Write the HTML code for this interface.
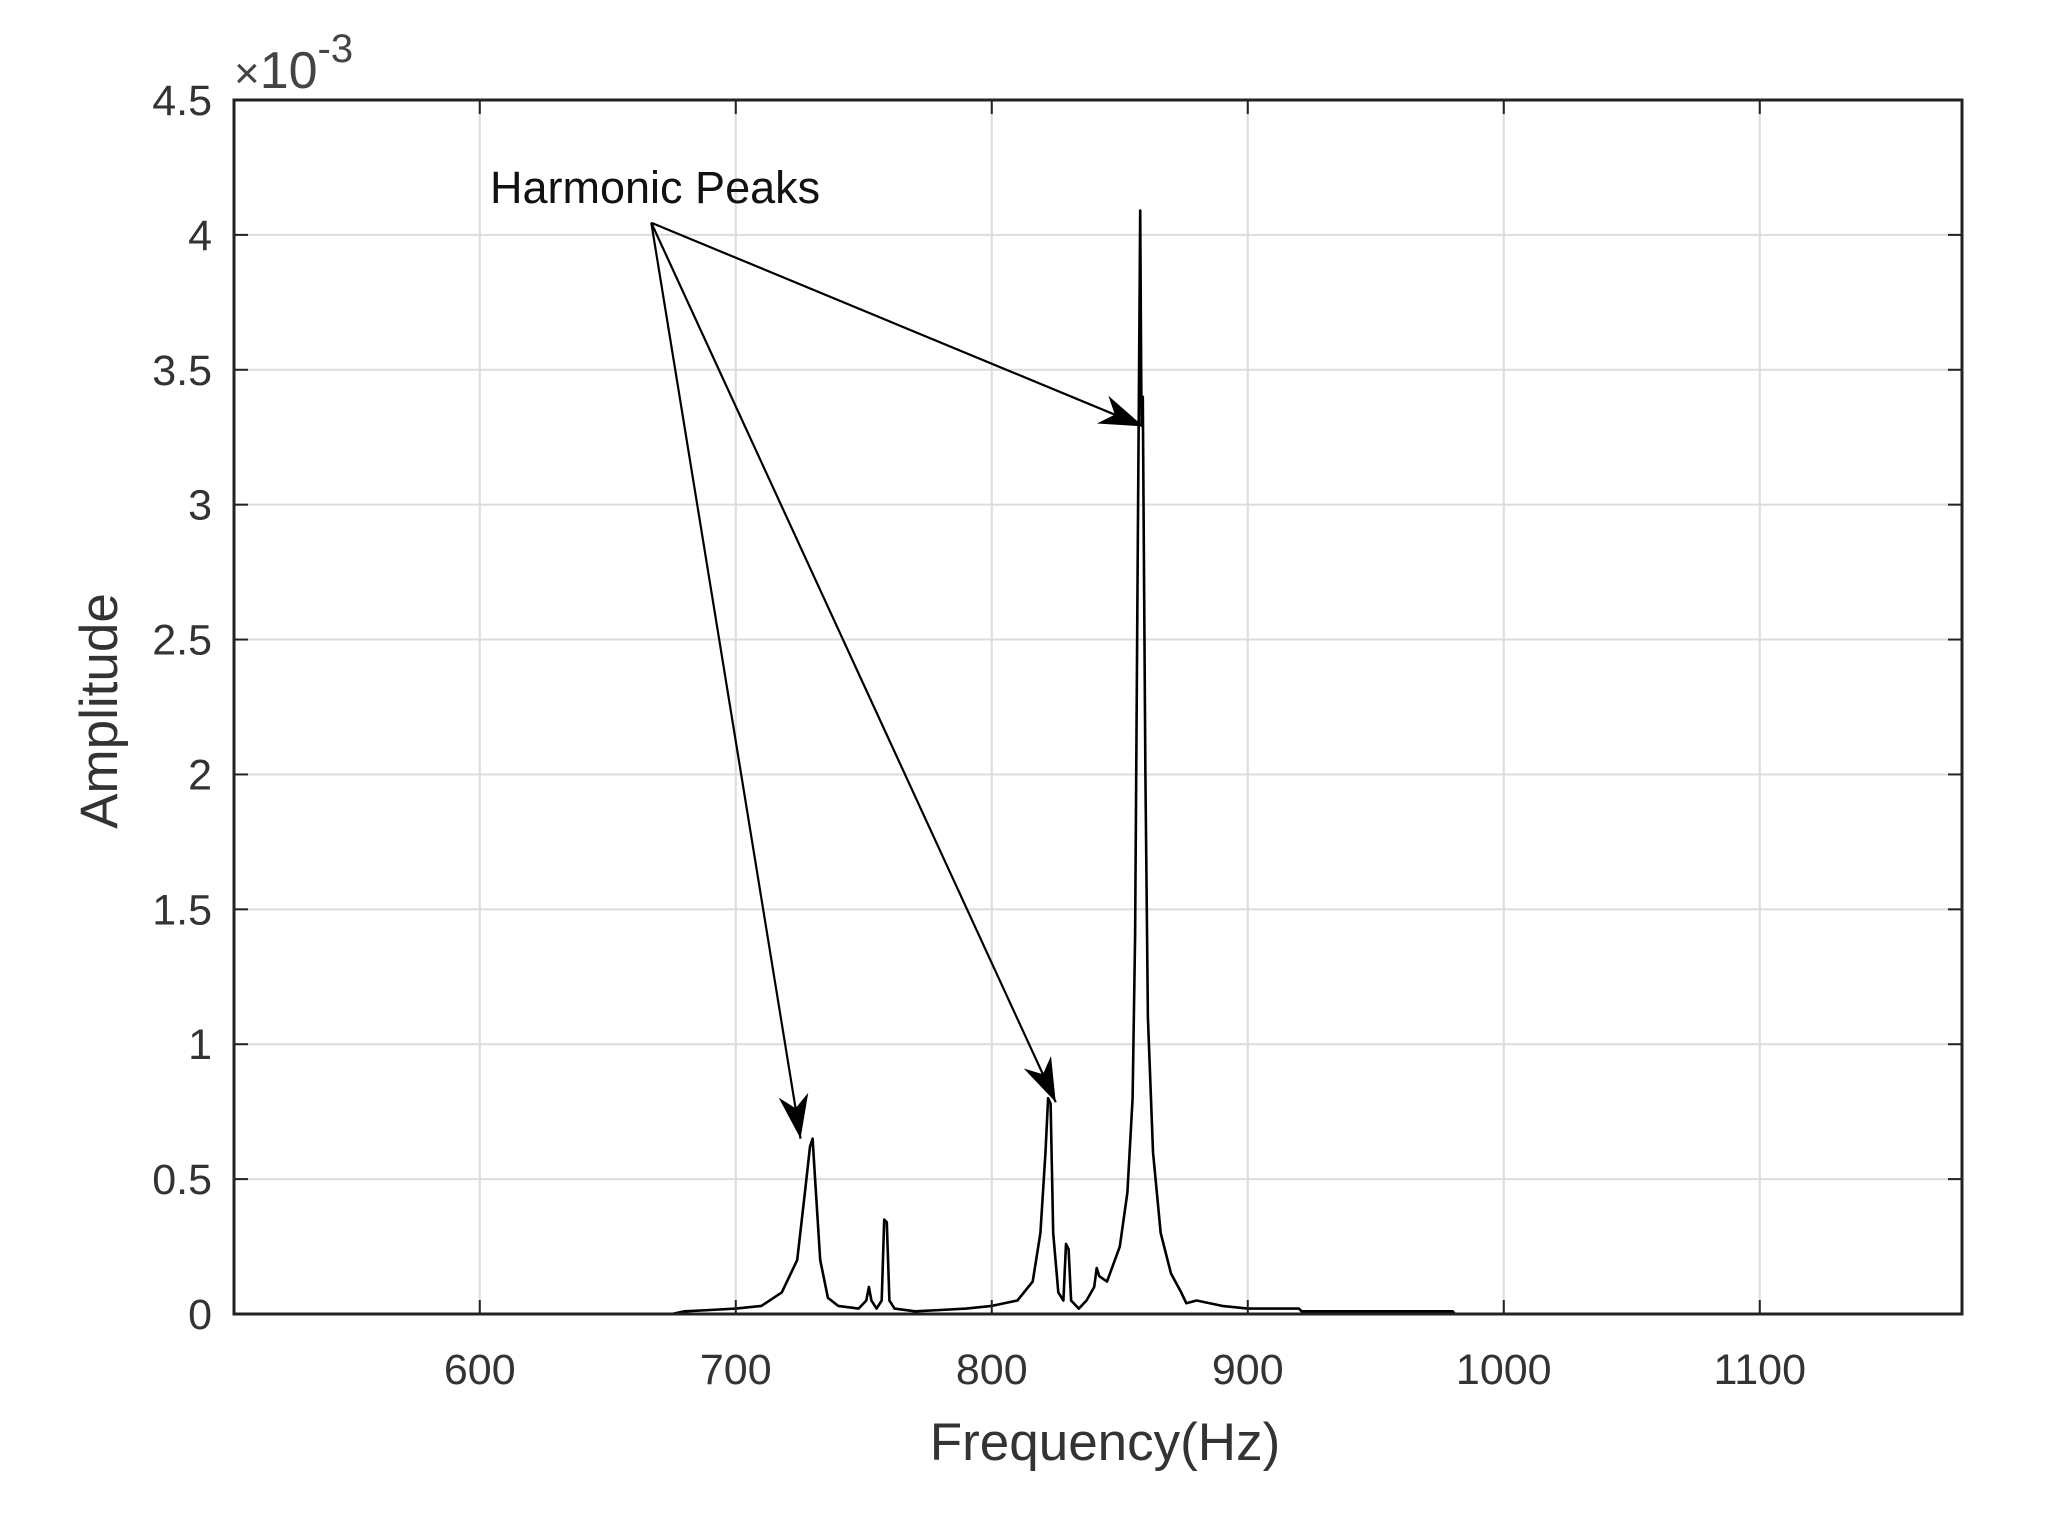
<!DOCTYPE html>
<html><head><meta charset="utf-8"><style>
html,body{margin:0;padding:0;background:#fff;}
svg{display:block;font-family:"Liberation Sans",Arial,sans-serif;}
</style></head><body>
<svg id="chart" width="2048" height="1517" viewBox="0 0 2048 1517" xmlns="http://www.w3.org/2000/svg">
<rect width="2048" height="1517" fill="#fff"/>
<g id="grid"></g>
<g id="series"></g>
<g id="annot"></g>
<g id="axes"></g>
</svg>
<script>
const freqs = [504,675,680,690,700,710,718,724,727,729,730,731,733,736,740,748,751,752,753,755,757,758,759,760,762,770,780,790,800,810,816,819,821,822,823,824,826,828,829,830,831,834,837,840,841,842,845,850,853,855,856,857,858,858.5,859,860,861,863,866,870,874,876,880,890,900,920,921,980,981,1179];
const amps = [0,0,0.01,0.015,0.02,0.03,0.08,0.2,0.45,0.62,0.65,0.5,0.2,0.06,0.03,0.02,0.05,0.1,0.05,0.02,0.05,0.35,0.34,0.05,0.02,0.01,0.015,0.02,0.03,0.05,0.12,0.3,0.6,0.8,0.78,0.3,0.08,0.05,0.26,0.24,0.05,0.02,0.05,0.1,0.17,0.14,0.12,0.25,0.45,0.8,1.4,2.8,4.09,3.3,3.4,2.0,1.1,0.6,0.3,0.15,0.08,0.04,0.05,0.03,0.02,0.02,0.01,0.01,0,0];
const xTicks = [600,700,800,900,1000,1100];
const yTicks = [0,0.5,1,1.5,2,2.5,3,3.5,4,4.5];
const yTickLabels = ["0","0.5","1","1.5","2","2.5","3","3.5","4","4.5"];
const arrowStart = [667,4.045];
const arrowHeadsF = [725.3,825,859.2];
const arrowHeadsA = [0.65,0.785,3.29];

const L=234,R=1962,T=100,B=1314,XMIN=504,XMAX=1179,YMIN=0,YMAX=4.5;
const NS="http://www.w3.org/2000/svg";
function xs(f){return L+(f-XMIN)/(XMAX-XMIN)*(R-L);}
function ys(a){return B-(a-YMIN)/(YMAX-YMIN)*(B-T);}
function mk(tag,attrs,parent){const e=document.createElementNS(NS,tag);for(const k in attrs)e.setAttribute(k,attrs[k]);parent.appendChild(e);return e;}
const grid=document.getElementById('grid'),axes=document.getElementById('axes'),series=document.getElementById('series'),annot=document.getElementById('annot');

xTicks.forEach(t=>{
  const g=mk('line',{x1:xs(t),x2:xs(t),y1:T,y2:B,stroke:'#dcdcdc','stroke-width':2},grid);
  
  
  mk('line',{x1:xs(t),x2:xs(t),y1:B,y2:B-14,stroke:'#222','stroke-width':2},axes);
  mk('line',{x1:xs(t),x2:xs(t),y1:T,y2:T+14,stroke:'#222','stroke-width':2},axes);
  const lb=mk('text',{x:xs(t),y:B+70,'font-size':43,'text-anchor':'middle',fill:'#333'},axes);
  lb.textContent=t;
  
  
});
yTicks.forEach((t,i)=>{
  if(t>0&&t<YMAX){
    const g=mk('line',{x1:L,x2:R,y1:ys(t),y2:ys(t),stroke:'#dcdcdc','stroke-width':2},grid);
    
    
  }
  mk('line',{x1:L,x2:L+14,y1:ys(t),y2:ys(t),stroke:'#222','stroke-width':2},axes);
  mk('line',{x1:R,x2:R-14,y1:ys(t),y2:ys(t),stroke:'#222','stroke-width':2},axes);
  const lb=mk('text',{x:L-22,y:ys(t)+15,'font-size':43,'text-anchor':'end',fill:'#333'},axes);
  lb.textContent=yTickLabels[i];
  
  
});
const box=mk('rect',{x:L,y:T,width:R-L,height:B-T,fill:'none',stroke:'#222','stroke-width':3},axes);



const d=freqs.map((f,i)=>(i?'L':'M')+xs(f).toFixed(1)+','+ys(amps[i]).toFixed(1)).join(' ');
const line=mk('path',{d:d,fill:'none',stroke:'#000','stroke-width':2.6,'stroke-linejoin':'round'},series);



const sx=xs(arrowStart[0]),sy=ys(arrowStart[1]);
arrowHeadsF.forEach((f,i)=>{
  const hx=xs(f),hy=ys(arrowHeadsA[i]);
  const a=mk('line',{x1:sx,y1:sy,x2:hx,y2:hy,stroke:'#000','stroke-width':2.2},annot);
  
  
  const ang=Math.atan2(hy-sy,hx-sx),len=44,w=15;
  const bx=hx-len*Math.cos(ang),by=hy-len*Math.sin(ang);
  const px=-Math.sin(ang)*w,py=Math.cos(ang)*w;
  const mx=hx-len*0.7*Math.cos(ang),my=hy-len*0.7*Math.sin(ang);
  const h=mk('polygon',{points:`${hx},${hy} ${bx+px},${by+py} ${mx},${my} ${bx-px},${by-py}`,fill:'#000'},annot);
  
  
});
const hl=mk('text',{x:490,y:203,'font-size':45,fill:'#111'},annot);
hl.textContent='Harmonic Peaks';



const ex=mk('text',{x:234,y:88,'font-size':52,fill:'#444'},axes);
ex.innerHTML='<tspan font-size="44">×</tspan>10<tspan dy="-26" font-size="40">-3</tspan>';


const yl=mk('text',{x:0,y:0,'font-size':53,'text-anchor':'middle',fill:'#333',transform:'translate(117,711) rotate(-90)'},axes);
yl.textContent='Amplitude';


const xl=mk('text',{x:1105,y:1460,'font-size':53,'text-anchor':'middle',fill:'#333'},axes);
xl.textContent='Frequency(Hz)';


</script>
</body></html>
